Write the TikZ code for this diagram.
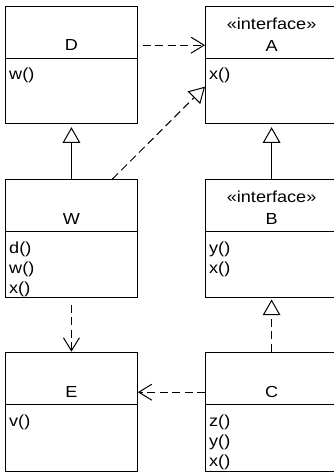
\documentclass[tikz,border=0pt]{standalone}
\usepackage{fontspec}
\usepackage{graphicx}
\setmainfont{Liberation Sans}
\newcommand{\hst}[1]{\scalebox{1.13}[1]{#1}}
\usetikzlibrary{arrows.meta}
\begin{document}
\begin{tikzpicture}[x=1pt,y=-1pt,
  box/.style={draw, line width=1.2pt, inner sep=0pt, minimum width=131.7pt, minimum height=117.6pt, anchor=north west},
  rbox/.style={box, minimum width=132pt},
  lbl/.style={inner sep=0pt, anchor=base, font=\fontsize{16}{20}\selectfont},
  meth/.style={inner sep=0pt, anchor=base west, font=\fontsize{16}{20}\selectfont},
  divider/.style={line width=1.2pt},
  conn/.style={line width=1pt},
  dsh/.style={dash pattern=on 8pt off 4.5pt},
  openv/.style={-{Straight Barb[length=13pt,width=16pt]}},
  inherit/.style={-{Triangle[open,length=15.7pt,width=17.7pt]}}
]
\useasboundingbox (0,0) rectangle (334,473);
\clip (0,0) rectangle (334,473);

% boxes
\node[box] (D) at (5,5.7) {};
\node[rbox] (A) at (205,5.7) {};
\node[box, minimum height=117.7pt] (W) at (5,179) {};
\node[rbox, minimum height=117.7pt] (B) at (205,179) {};
\node[box, minimum height=119pt] (E) at (5,351.7) {};
\node[rbox, minimum height=119pt] (C) at (205,351.7) {};

% dividers
\foreach \b in {D,A,W,B} {
  \draw[divider] ([yshift=-52.6pt]\b.north west) -- ([yshift=-52.6pt]\b.north east);
}
\foreach \b in {E,C} {
  \draw[divider] ([yshift=-52.9pt]\b.north west) -- ([yshift=-52.9pt]\b.north east);
}

% names
\node[lbl] (Dn) at ([yshift=-45pt]D.north) {\hst{D}};
\node[lbl] (As) at ([yshift=-23.5pt]A.north) {\hst{«interface»}};
\node[lbl] (An) at ([yshift=-45.5pt]A.north) {\hst{A}};
\node[lbl] (Wn) at ([yshift=-45pt]W.north) {\hst{W}};
\node[lbl] (Bs) at ([yshift=-23.5pt]B.north) {\hst{«interface»}};
\node[lbl] (Bn) at ([yshift=-45.5pt]B.north) {\hst{B}};
\node[lbl] (En) at ([yshift=-46pt]E.north) {\hst{E}};
\node[lbl] (Cn) at ([yshift=-46pt]C.north) {\hst{C}};

% methods
\node[meth] (Dm1) at ([xshift=4pt,yshift=-74.1pt]D.north west) {\hst{w()}};
\node[meth] (Am1) at ([xshift=4pt,yshift=-74.1pt]A.north west) {\hst{x()}};
\node[meth] (Wm1) at ([xshift=4pt,yshift=-74.2pt]W.north west) {\hst{d()}};
\node[meth] (Wm2) at ([xshift=4pt,yshift=-94.2pt]W.north west) {\hst{w()}};
\node[meth] (Wm3) at ([xshift=4pt,yshift=-114.2pt]W.north west) {\hst{x()}};
\node[meth] (Bm1) at ([xshift=4pt,yshift=-74.2pt]B.north west) {\hst{y()}};
\node[meth] (Bm2) at ([xshift=4pt,yshift=-94.2pt]B.north west) {\hst{x()}};
\node[meth] (Em1) at ([xshift=4pt,yshift=-74.8pt]E.north west) {\hst{v()}};
\node[meth] (Cm1) at ([xshift=4pt,yshift=-74.8pt]C.north west) {\hst{z()}};
\node[meth] (Cm2) at ([xshift=4pt,yshift=-94.8pt]C.north west) {\hst{y()}};
\node[meth] (Cm3) at ([xshift=4pt,yshift=-114.8pt]C.north west) {\hst{x()}};

% connectors
\draw[conn,dsh,openv] ([xshift=5pt]D.east |- Dn.center) -- (A.west |- Dn.center);
\draw[conn,inherit] (W.north) -- ([yshift=-2.7pt]D.south);
\draw[conn,dsh,inherit] ([xshift=41pt]W.north) -- ([yshift=-81pt]A.north west);
\draw[conn,inherit] (B.north) -- ([yshift=-2.7pt]A.south);
\draw[conn,dsh,inherit] (C.north) -- ([yshift=-1.6pt]B.south);
\draw[conn,dsh,openv] ([yshift=-7pt]W.south) -- (E.north);
\draw[conn,dsh,openv] (C.west |- Cn.center) -- (E.east |- Cn.center);
\end{tikzpicture}
\end{document}
